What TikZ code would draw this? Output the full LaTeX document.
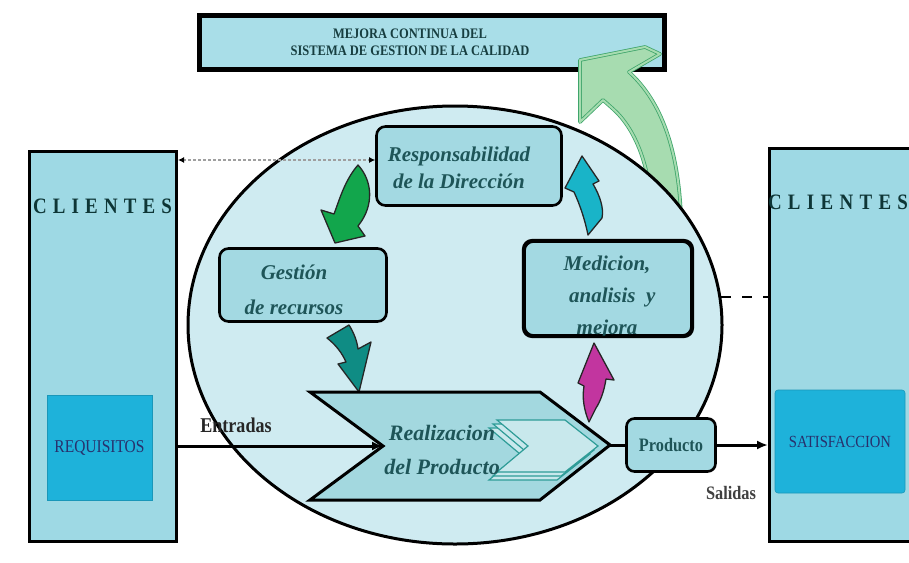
\documentclass[tikz,border=0pt]{standalone}
\usepackage{fontspec}
\setmainfont{Liberation Serif}
\newfontfamily\condserif[FakeStretch=0.86]{Liberation Serif}
\usetikzlibrary{shapes.geometric,arrows.meta,calc}

\definecolor{clientfill}{HTML}{9ED9E4}
\definecolor{topfill}{HTML}{A9DEE8}
\definecolor{ellfill}{HTML}{CFEBF1}
\definecolor{boxfill}{HTML}{A3D9E2}
\definecolor{chevfill}{HTML}{A3D8DF}
\definecolor{deepcyan}{HTML}{1EB2DA}
\definecolor{txtteal}{HTML}{1E5558}
\definecolor{navytxt}{HTML}{28306C}
\definecolor{bannertxt}{HTML}{173E40}
\definecolor{clienttxt}{HTML}{0E3636}
\definecolor{arrgreen}{HTML}{12A64C}
\definecolor{arrteal}{HTML}{0F8C84}
\definecolor{arrcyan}{HTML}{19B4C8}
\definecolor{arrmagenta}{HTML}{C2359F}
\definecolor{lightgreen}{HTML}{A7DCB0}
\definecolor{greenline}{HTML}{3EA56B}
\definecolor{stackline}{HTML}{2E9C97}

\tikzset{
  clientbox/.style={draw=black, line width=3pt, fill=clientfill, inner sep=0pt},
  deepbox/.style={fill=deepcyan, draw=deepcyan!85!black, line width=0.6pt, inner sep=0pt, text=navytxt},
  banner/.style={draw=black, line width=5pt, fill=topfill, inner sep=0pt},
  bannertext/.style={text=bannertxt, font=\condserif\bfseries\fontsize{14.5}{17}\selectfont, align=center, inner sep=0pt},
  clientword/.style={text=clienttxt, font=\condserif\bfseries\fontsize{22}{24}\selectfont, inner sep=0pt},
  roundbox/.style={draw=black, line width=2.6pt, fill=boxfill, rounded corners=9pt, inner sep=0pt},
  boxitalic/.style={text=txtteal, font=\bfseries\itshape\fontsize{21}{#1}\selectfont, align=center, inner sep=0pt},
  mainline/.style={draw=black, line width=3pt},
  blockarrow/.style={draw=black!85, line width=1.3pt, line join=round},
  flowlabel/.style={font=\condserif\bfseries\fontsize{#1}{#1}\selectfont, inner sep=0pt},
  stackchev/.style={draw=stackline, line width=1.2pt, fill=chevfill!60!white, line join=miter},
  bigtip/.style={-{Latex[length=11pt,width=9pt]}},
}

\begin{document}
\begin{tikzpicture}[x=1pt,y=-1pt]
\useasboundingbox (0,0) rectangle (909,562);
\clip (0,0) rectangle (909,562);
\fill[white] (0,0) rectangle (909,562);

% banner: continual improvement
\node[banner, minimum width=465pt, minimum height=54pt] (mejora) at (432,42.5) {};
\node[bannertext] (mejoratxt) at (410,42) {MEJORA CONTINUA DEL\\SISTEMA DE GESTION DE LA CALIDAD};

% curved improvement arrow rising towards the banner
\path[fill=lightgreen, draw=greenline, double=lightgreen, double distance=2pt, line width=0.8pt, line join=round]
  (580,122) -- (580,60) -- (645,47) -- (660,54) -- (629,72)
  .. controls (662,102) and (678,150) .. (681,215) -- (652,215)
  .. controls (650,165) and (635,128) .. (612,108) -- (603,100) -- cycle;

% customers (input side)
\node[clientbox, minimum width=147pt, minimum height=390pt] (lbox) at (103,346.5) {};
\node[clientword] (lcli) at (102.5,206) {\makebox[139pt][s]{C L I E N T E S}};
\node[deepbox, minimum width=105pt, minimum height=105pt, font=\condserif\fontsize{18}{20}\selectfont] (req) at (99.5,447.5) {REQUISITOS};

% customers (output side)
\node[clientbox, minimum width=144.5pt, minimum height=393pt] (rbox) at (841.75,345) {};
\node[clientword] (rcli) at (838,202) {\makebox[140pt][s]{C L I E N T E S}};
\node[deepbox, rounded corners=3pt, minimum width=130pt, minimum height=103pt, font=\condserif\fontsize{17}{20}\selectfont] (sat) at (840,441.5) {SATISFACCION};

% quality management system
\node[ellipse, draw=black, line width=3pt, fill=ellfill, minimum width=534pt, minimum height=438pt, inner sep=0pt] (ell) at (455,325) {};

% process boxes
\node[roundbox, minimum width=185pt, minimum height=79pt] (resp) at (469,166) {};
\node[boxitalic=27] (resptxt) at (459,168) {Responsabilidad\\de la Dirección};

\node[roundbox, minimum width=167pt, minimum height=73pt] (gest) at (303,285) {};
\node[boxitalic=35] (gesttxt) at (294,290) {Gestión\\de recursos};

\node[roundbox, minimum width=167pt, minimum height=94pt] (med) at (608,288.5) {};
\begin{scope}
  \clip (med.south west) rectangle (med.north east);
  \node[boxitalic=32] (medtxt) at (607,297) {Medicion,\\\ \ analisis\ \ y\\mejora};
\end{scope}
\draw[line width=2.6pt, rounded corners=9pt] (med.south west) rectangle (med.north east);

% link between customers and top management
\coordinate (dotR) at ($(resp.west)+(0,-6)$);
\draw[draw=gray!75, line width=1.5pt, dash pattern=on 2.5pt off 2.5pt,
      {Latex[length=6pt,width=6pt,color=black]}-{Latex[length=6pt,width=6pt,color=black]}]
  (lbox.east |- dotR) -- (dotR);

% feedback from customers
\draw[line width=2pt, dash pattern=on 10pt off 11pt] (ell.6) -- (ell.6 -| rbox.west);

% cycle arrows
\draw[blockarrow, fill=arrgreen]
  (358,165) .. controls (372,180) and (375,205) .. (358,226) -- (365,236) -- (335,243)
  -- (321,210) -- (334,214) .. controls (340,198) and (345,180) .. cycle;
\draw[blockarrow, fill=arrteal]
  (327,338) -- (349,325) .. controls (354,333) and (357,341) .. (358,349) -- (371,342)
  -- (359,392) -- (338,364) -- (346,362) .. controls (342,353) and (336,345) .. cycle;
\draw[blockarrow, fill=arrcyan]
  (582,156) -- (599,181) -- (593,184) .. controls (600,196) and (604,208) .. (602,218)
  -- (588,235) .. controls (585,220) and (580,205) .. (574,192) -- (565,188) -- cycle;
\draw[blockarrow, fill=arrmagenta]
  (594,343) -- (614,380) -- (606,379) .. controls (604,392) and (600,402) .. (596,408)
  -- (589,422) .. controls (584,410) and (582,398) .. (584,386) -- (578,383) -- cycle;

% product realisation
\coordinate (rtip) at (610,445);
\coordinate (rnotch) at (383,446);
\draw[line width=3pt, fill=chevfill, line join=miter]
  (310,392) -- (540,392) -- (rtip) -- (540,500) -- (310,500) -- (rnotch) -- cycle;
\foreach \d in {8,4,0} {
  \begin{scope}[shift={(-\d,\d)}]
    \draw[stackchev] (497,420) -- (565,420) -- (598,446) -- (565,472) -- (497,472) -- (528,446) -- cycle;
  \end{scope}
}
\node[text=txtteal, font=\bfseries\itshape\fontsize{22}{34}\selectfont, align=center, inner sep=0pt] (realtxt) at (442,450) {Realizacion\\del Producto};

% product and flows
\node[roundbox, rounded corners=8pt, minimum width=89pt, minimum height=53pt,
      text=txtteal, font=\condserif\bfseries\fontsize{19}{22}\selectfont] (prod) at (671,445) {Producto};
\draw[mainline, bigtip] (lbox.east |- rnotch) -- (rnotch);
\draw[mainline] (rtip) -- (prod.west);
\draw[mainline, bigtip] (prod.east) -- (prod.east -| rbox.west);

\node[flowlabel=21, text=black!85] (entradas) at (236,425) {Entradas};
\node[flowlabel=19, text=black!75] (salidas) at (731,493) {Salidas};
\end{tikzpicture}
\end{document}
